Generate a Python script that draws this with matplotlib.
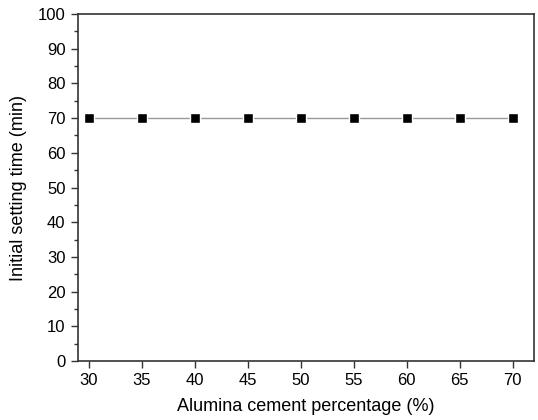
import matplotlib
matplotlib.use("Agg")
import matplotlib.pyplot as plt
from matplotlib.ticker import MultipleLocator

plt.rcParams['font.family'] = ['Liberation Sans', 'DejaVu Sans']

alumina_pct = [30, 35, 40, 45, 50, 55, 60, 65, 70]
setting_time = [70, 70, 70, 70, 70, 70, 70, 70, 70]

fig = plt.figure(figsize=(5.38, 4.2), dpi=100)
ax = fig.add_axes([0.145, 0.1405, 0.8475, 0.826])

ax.plot(alumina_pct, setting_time, color='#999999', linewidth=1.0, zorder=2)
ax.plot(alumina_pct, setting_time, linestyle='none', marker='s', markersize=6.5,
        markerfacecolor='black', markeredgecolor='white', markeredgewidth=1.0, zorder=3)

ax.set_xlim(29, 72)
ax.set_ylim(0, 100)
ax.xaxis.set_major_locator(MultipleLocator(5))
ax.yaxis.set_major_locator(MultipleLocator(10))
ax.yaxis.set_minor_locator(MultipleLocator(5))

for s in ax.spines.values():
    s.set_linewidth(1.2)
    s.set_color('#333333')

ax.tick_params(axis='both', which='major', direction='out', length=5, width=1.0,
               labelsize=12, color='#333333', pad=4)
ax.tick_params(axis='y', which='minor', direction='out', length=3, width=1.0, color='#333333')

ax.set_xlabel('Alumina cement percentage (%)', fontsize=13, labelpad=7)
ax.set_ylabel('Initial setting time (min)', fontsize=13, labelpad=8)

fig.savefig('out.png', dpi=100)
